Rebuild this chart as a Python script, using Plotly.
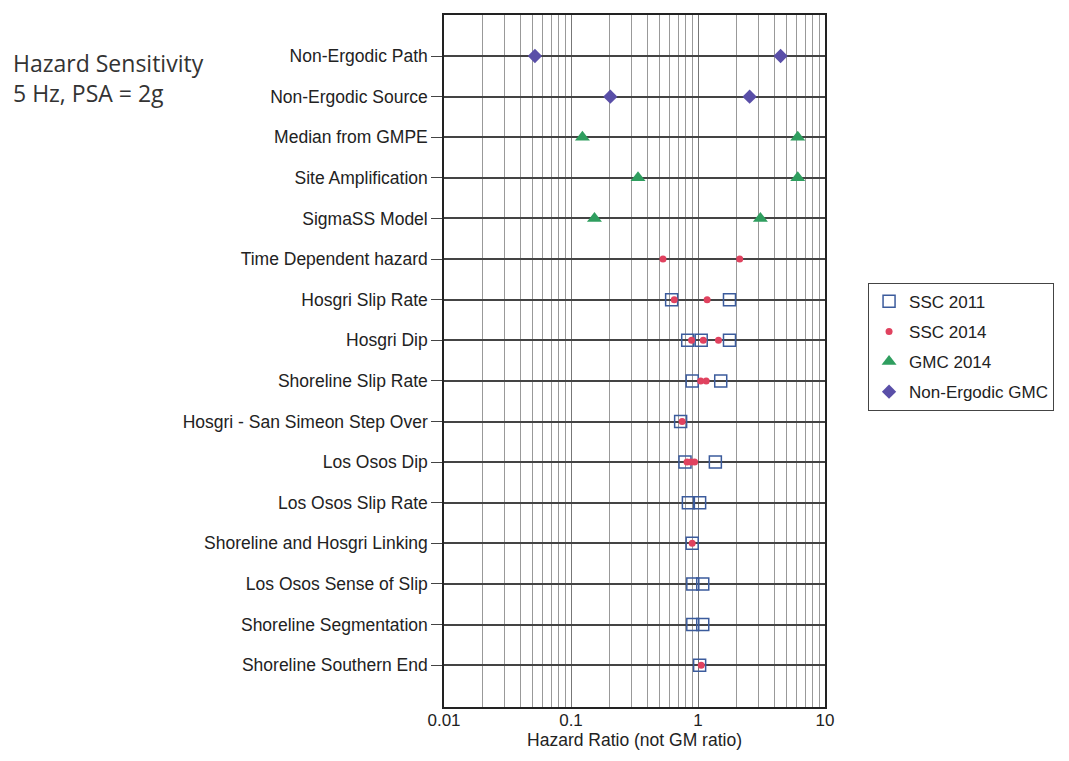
import plotly.graph_objects as go

categories = [
    "Non-Ergodic Path", "Non-Ergodic Source", "Median from GMPE", "Site Amplification",
    "SigmaSS Model", "Time Dependent hazard", "Hosgri Slip Rate", "Hosgri Dip",
    "Shoreline Slip Rate", "Hosgri - San Simeon Step Over", "Los Osos Dip",
    "Los Osos Slip Rate", "Shoreline and Hosgri Linking", "Los Osos Sense of Slip",
    "Shoreline Segmentation", "Shoreline Southern End",
]

# SSC 2011 (open squares)
ssc2011_cat = ["Hosgri Slip Rate", "Hosgri Slip Rate",
               "Hosgri Dip", "Hosgri Dip", "Hosgri Dip",
               "Shoreline Slip Rate", "Shoreline Slip Rate",
               "Hosgri - San Simeon Step Over",
               "Los Osos Dip", "Los Osos Dip",
               "Los Osos Slip Rate", "Los Osos Slip Rate",
               "Shoreline and Hosgri Linking",
               "Los Osos Sense of Slip", "Los Osos Sense of Slip",
               "Shoreline Segmentation", "Shoreline Segmentation",
               "Shoreline Southern End"]
ssc2011_val = [0.62, 1.77,
               0.83, 1.06, 1.77,
               0.90, 1.51,
               0.73,
               0.79, 1.37,
               0.84, 1.03,
               0.90,
               0.91, 1.09,
               0.91, 1.09,
               1.03]

# SSC 2014 (small red dots)
ssc2014_cat = ["Time Dependent hazard", "Time Dependent hazard",
               "Hosgri Slip Rate", "Hosgri Slip Rate",
               "Hosgri Dip", "Hosgri Dip", "Hosgri Dip",
               "Shoreline Slip Rate", "Shoreline Slip Rate",
               "Hosgri - San Simeon Step Over",
               "Los Osos Dip", "Los Osos Dip", "Los Osos Dip",
               "Shoreline and Hosgri Linking",
               "Shoreline Southern End"]
ssc2014_val = [0.53, 2.13,
               0.65, 1.18,
               0.89, 1.10, 1.45,
               1.05, 1.16,
               0.75,
               0.82, 0.88, 0.94,
               0.90,
               1.06]

# GMC 2014 (triangles)
gmc2014_cat = ["Median from GMPE", "Median from GMPE",
               "Site Amplification", "Site Amplification",
               "SigmaSS Model", "SigmaSS Model"]
gmc2014_val = [0.123, 6.1, 0.337, 6.1, 0.153, 3.1]

# Non-Ergodic GMC (diamonds)
nonerg_cat = ["Non-Ergodic Path", "Non-Ergodic Path",
              "Non-Ergodic Source", "Non-Ergodic Source"]
nonerg_val = [0.052, 4.47, 0.204, 2.55]

idx = {c: i for i, c in enumerate(categories)}

fig = go.Figure()
fig.add_trace(go.Scatter(
    x=ssc2011_val, y=[idx[c] for c in ssc2011_cat], mode="markers", name="SSC 2011",
    legendgroup="a",
    marker=dict(symbol="square-open", size=12, color="#3b5b9c", line=dict(width=1.5))))
fig.add_trace(go.Scatter(
    x=ssc2014_val, y=[idx[c] for c in ssc2014_cat], mode="markers", name="SSC 2014",
    legendgroup="b",
    marker=dict(symbol="circle", size=7, color="#e0425f")))
fig.add_trace(go.Scatter(
    x=gmc2014_val, y=[idx[c] for c in gmc2014_cat], mode="markers", name="GMC 2014",
    legendgroup="c",
    marker=dict(symbol="triangle-up", size=13, color="#2f9e5f")))
fig.add_trace(go.Scatter(
    x=nonerg_val, y=[idx[c] for c in nonerg_cat], mode="markers", name="Non-Ergodic GMC",
    legendgroup="d",
    marker=dict(symbol="diamond", size=11, color="#5a4fa8")))

fig.update_layout(
    width=1069, height=761,
    margin=dict(l=444, r=244, t=15, b=54),
    paper_bgcolor="white", plot_bgcolor="white",
    font=dict(family="Liberation Sans, Arial, sans-serif", color="#222"),
    showlegend=True,
    legend=dict(x=1.113, y=0.613, xanchor="left", yanchor="top",
                bordercolor="#444", borderwidth=1, bgcolor="white",
                font=dict(size=17, color="#222"), traceorder="grouped",
                tracegroupgap=5, entrywidth=165, entrywidthmode="pixels"),
    xaxis=dict(type="log", range=[-2, 1], dtick=1,
               showgrid=True, gridcolor="#777", gridwidth=1.2,
               minor=dict(showgrid=True, gridcolor="#999", gridwidth=1, dtick="D1"),
               showline=True, linecolor="#222", linewidth=1.5, mirror=True,
               ticks="", tickfont=dict(size=17, color="#222"), ticklabelstandoff=-3,
               title=dict(text="Hazard Ratio (not GM ratio)", font=dict(size=17.5, color="#222"),
                          standoff=0),
               zeroline=False),
    yaxis=dict(range=[16.03, -1.01], tickvals=list(range(len(categories))),
               ticktext=categories, showgrid=True, gridcolor="#444", gridwidth=1.5,
               showline=True, linecolor="#222", linewidth=1.5, mirror=True,
               ticks="outside", ticklen=11, tickcolor="#444",
               tickfont=dict(size=17.5, color="#222"), zeroline=False),
)

fig.add_annotation(
    text="Hazard Sensitivity<br>5 Hz, PSA = 2g", xref="paper", yref="paper",
    x=-444 / 381 + 11 / 381, y=(707 - 45) / 692, xanchor="left", yanchor="top",
    align="left", showarrow=False,
    font=dict(family="Open Sans, sans-serif", size=23, color="#333"))

fig.write_html("out.html")
